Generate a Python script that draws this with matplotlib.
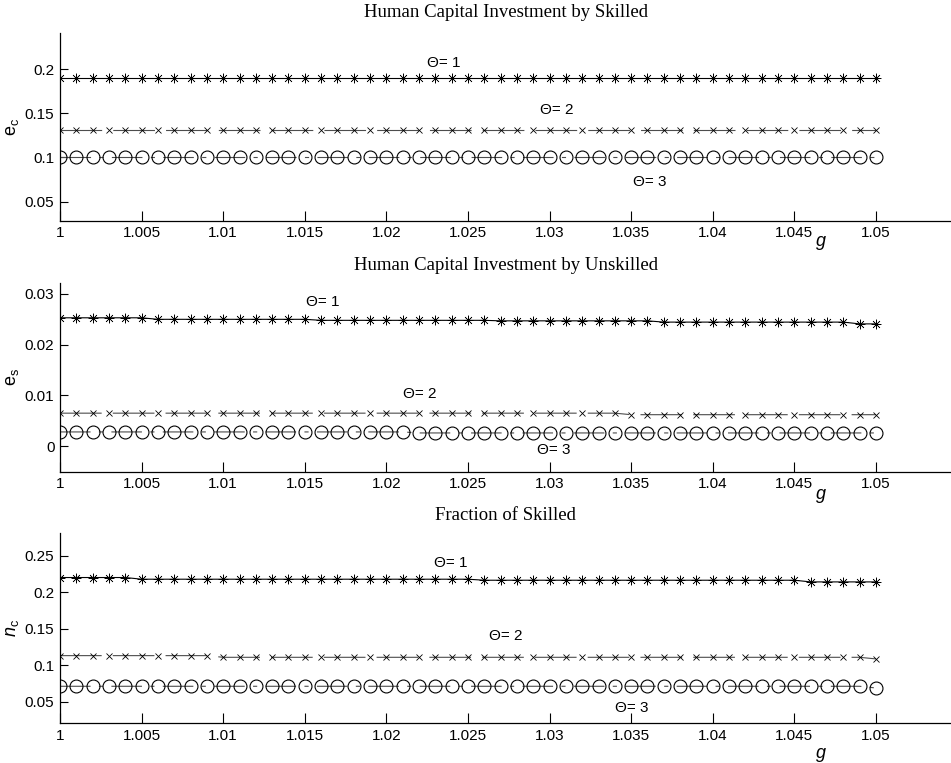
import matplotlib
matplotlib.use("Agg")
import matplotlib.pyplot as plt
import matplotlib.transforms as mtransforms

plt.rcParams['font.family'] = ['Liberation Sans', 'DejaVu Sans']
plt.rcParams['mathtext.fontset'] = 'custom'
plt.rcParams['mathtext.rm'] = 'Liberation Sans'
plt.rcParams['mathtext.it'] = 'Liberation Sans:italic'
plt.rcParams['lines.scale_dashes'] = False

# ---------------- data ----------------
g = [1.000, 1.001, 1.002, 1.003, 1.004, 1.005, 1.006, 1.007, 1.008, 1.009,
     1.010, 1.011, 1.012, 1.013, 1.014, 1.015, 1.016, 1.017, 1.018, 1.019,
     1.020, 1.021, 1.022, 1.023, 1.024, 1.025, 1.026, 1.027, 1.028, 1.029,
     1.030, 1.031, 1.032, 1.033, 1.034, 1.035, 1.036, 1.037, 1.038, 1.039,
     1.040, 1.041, 1.042, 1.043, 1.044, 1.045, 1.046, 1.047, 1.048, 1.049,
     1.050]

# Human capital investment by skilled (e_c)
ec_theta1 = [0.190, 0.190, 0.190, 0.190, 0.190, 0.190, 0.190, 0.190, 0.190, 0.190,
             0.190, 0.190, 0.190, 0.190, 0.190, 0.190, 0.190, 0.190, 0.190, 0.190,
             0.190, 0.190, 0.190, 0.190, 0.190, 0.190, 0.190, 0.190, 0.190, 0.190,
             0.190, 0.190, 0.190, 0.190, 0.190, 0.190, 0.190, 0.190, 0.190, 0.190,
             0.190, 0.190, 0.190, 0.190, 0.190, 0.190, 0.190, 0.190, 0.190, 0.190,
             0.190]
ec_theta2 = [0.131, 0.131, 0.131, 0.131, 0.131, 0.131, 0.131, 0.131, 0.131, 0.131,
             0.131, 0.131, 0.131, 0.131, 0.131, 0.131, 0.131, 0.131, 0.131, 0.131,
             0.131, 0.131, 0.131, 0.131, 0.131, 0.131, 0.131, 0.131, 0.131, 0.131,
             0.131, 0.131, 0.131, 0.131, 0.131, 0.131, 0.131, 0.131, 0.131, 0.131,
             0.131, 0.131, 0.131, 0.131, 0.131, 0.131, 0.131, 0.131, 0.131, 0.131,
             0.131]
ec_theta3 = [0.101, 0.101, 0.101, 0.101, 0.101, 0.101, 0.101, 0.101, 0.101, 0.101,
             0.101, 0.101, 0.101, 0.101, 0.101, 0.101, 0.101, 0.101, 0.101, 0.101,
             0.101, 0.101, 0.101, 0.101, 0.101, 0.101, 0.101, 0.101, 0.101, 0.101,
             0.101, 0.101, 0.101, 0.101, 0.101, 0.101, 0.101, 0.101, 0.101, 0.101,
             0.101, 0.101, 0.101, 0.101, 0.101, 0.101, 0.101, 0.101, 0.101, 0.101,
             0.101]

# Human capital investment by unskilled (e_s)
es_theta1 = [0.0253, 0.0253, 0.0253, 0.0253, 0.0253, 0.0253, 0.0250, 0.0250, 0.0250, 0.0250,
             0.0250, 0.0250, 0.0250, 0.0250, 0.0250, 0.0250, 0.0248, 0.0248, 0.0248, 0.0248,
             0.0248, 0.0248, 0.0248, 0.0248, 0.0248, 0.0248, 0.0248, 0.0247, 0.0247, 0.0247,
             0.0247, 0.0247, 0.0247, 0.0247, 0.0247, 0.0247, 0.0247, 0.02445, 0.02445, 0.02445,
             0.02445, 0.02445, 0.02445, 0.02445, 0.02445, 0.02445, 0.02445, 0.02445, 0.02445, 0.0241,
             0.0241]
es_theta2 = [0.0065, 0.0065, 0.0065, 0.0065, 0.0065, 0.0065, 0.0065, 0.0065, 0.0065, 0.0065,
             0.0065, 0.0065, 0.0065, 0.0065, 0.0065, 0.0065, 0.0065, 0.0065, 0.0065, 0.0065,
             0.0065, 0.0065, 0.0065, 0.0065, 0.0065, 0.0065, 0.0065, 0.0065, 0.0065, 0.0065,
             0.0065, 0.0065, 0.0065, 0.0065, 0.0065, 0.0062, 0.0062, 0.0062, 0.0062, 0.0062,
             0.0062, 0.0062, 0.0062, 0.0062, 0.0062, 0.0062, 0.0062, 0.0062, 0.0062, 0.0062,
             0.0062]
es_theta3 = [0.0028, 0.0028, 0.0028, 0.0028, 0.0028, 0.0028, 0.0028, 0.0028, 0.0028, 0.0028,
             0.0028, 0.0028, 0.0028, 0.0028, 0.0028, 0.0028, 0.0028, 0.0028, 0.0028, 0.0028,
             0.0028, 0.0028, 0.0026, 0.0026, 0.0026, 0.0026, 0.0026, 0.0026, 0.0026, 0.0026,
             0.0026, 0.0026, 0.0026, 0.0026, 0.0026, 0.0026, 0.0026, 0.0026, 0.0026, 0.0026,
             0.0026, 0.0026, 0.0026, 0.0026, 0.0026, 0.0026, 0.0026, 0.0026, 0.0026, 0.0026,
             0.0026]

# Fraction of skilled (n_c)
nc_theta1 = [0.2205, 0.2205, 0.2205, 0.2205, 0.2205, 0.2182, 0.2182, 0.2182, 0.2182, 0.2182,
             0.2182, 0.2182, 0.2182, 0.2182, 0.2182, 0.2182, 0.2182, 0.2182, 0.2182, 0.2182,
             0.2182, 0.2182, 0.2182, 0.2182, 0.2182, 0.2182, 0.2168, 0.2168, 0.2168, 0.2168,
             0.2168, 0.2168, 0.2168, 0.2168, 0.2168, 0.2168, 0.2168, 0.2168, 0.2168, 0.2168,
             0.2168, 0.2168, 0.2168, 0.2168, 0.2168, 0.2168, 0.2145, 0.2145, 0.2145, 0.2145,
             0.2145]
nc_theta2 = [0.1135, 0.1135, 0.1135, 0.1135, 0.1135, 0.1135, 0.1135, 0.1135, 0.1135, 0.1135,
             0.1112, 0.1112, 0.1112, 0.1112, 0.1112, 0.1112, 0.1112, 0.1112, 0.1112, 0.1112,
             0.1112, 0.1112, 0.1112, 0.1112, 0.1112, 0.1112, 0.1112, 0.1112, 0.1112, 0.1112,
             0.1112, 0.1112, 0.1112, 0.1112, 0.1112, 0.1112, 0.1112, 0.1112, 0.1112, 0.1112,
             0.1112, 0.1112, 0.1112, 0.1112, 0.1112, 0.1112, 0.1112, 0.1112, 0.1112, 0.1112,
             0.1090]
nc_theta3 = [0.0715, 0.0715, 0.0715, 0.0715, 0.0715, 0.0715, 0.0715, 0.0715, 0.0715, 0.0715,
             0.0715, 0.0715, 0.0715, 0.0715, 0.0715, 0.0715, 0.0715, 0.0715, 0.0715, 0.0715,
             0.0715, 0.0715, 0.0715, 0.0715, 0.0715, 0.0715, 0.0715, 0.0715, 0.0715, 0.0715,
             0.0715, 0.0715, 0.0715, 0.0715, 0.0715, 0.0715, 0.0715, 0.0715, 0.0715, 0.0715,
             0.0715, 0.0715, 0.0715, 0.0715, 0.0715, 0.0715, 0.0715, 0.0715, 0.0715, 0.0715,
             0.0692]

titles = ["Human Capital Investment by Skilled",
          "Human Capital Investment by Unskilled",
          "Fraction of Skilled"]
ylabels = [r"$\mathregular{e_c}$", r"$\mathregular{e_s}$", r"$\mathit{n}_\mathregular{c}$"]
theta_labels = ["\u0398= 1", "\u0398= 2", "\u0398= 3"]
xticks = [1, 1.005, 1.01, 1.015, 1.02, 1.025, 1.03, 1.035, 1.04, 1.045, 1.05]
xticklabels = ["1", "1.005", "1.01", "1.015", "1.02", "1.025", "1.03", "1.035", "1.04", "1.045", "1.05"]
yticks = [[0.05, 0.1, 0.15, 0.2], [0, 0.01, 0.02, 0.03], [0.05, 0.1, 0.15, 0.2, 0.25]]
yticklabels = [["0.05", "0.1", "0.15", "0.2"], ["0", "0.01", "0.02", "0.03"],
               ["0.05", "0.1", "0.15", "0.2", "0.25"]]

series = [(ec_theta1, ec_theta2, ec_theta3),
          (es_theta1, es_theta2, es_theta3),
          (nc_theta1, nc_theta2, nc_theta3)]

# ---------------- layout ----------------
W, H = 951, 763
fig = plt.figure(figsize=(W / 100, H / 100), dpi=100)

boxes = [(32.7, 220.5), (283.3, 471.5), (533.0, 723.0)]
ylims = [(0.0285, 0.2415), (-0.0050, 0.0321), (0.0212, 0.2815)]
xlim = (1.0, 1.0546)

ann_pos = [[(1.0225, 0.2071), (1.0294, 0.1537), (1.0351, 0.0723)],
           [(1.0151, 0.0284), (1.0210, 0.0102), (1.0292, -0.0008)],
           [(1.0229, 0.2404), (1.0263, 0.1404), (1.0340, 0.0418)]]
g_offsets = [21.5, 22.5, 30.0]
title_pads = [11.0, 9.6, 9.6]

for i in range(3):
    top, bot = boxes[i]
    ax = fig.add_axes([60 / W, 1 - bot / H, (W - 60) / W, (bot - top) / H])
    y1, y2, y3 = series[i]
    ax.plot(g, y1, color='k', lw=0.8, marker=(8, 2, 0), ms=7, mew=0.45, mec='k')
    ax.plot(g, y2, color='0.3', lw=0.8, ls=(0, (30, 8)), marker='x', ms=4.5,
            mew=0.6, mec='k')
    ax.plot(g, y3, color='0.3', lw=0.8, ls=(0, (22, 6, 3, 6)), marker='o', ms=9.3,
            mew=0.8, mec='k', mfc='none')

    ax.set_xlim(*xlim)
    ax.set_ylim(*ylims[i])
    ax.set_xticks(xticks)
    ax.set_xticklabels(xticklabels)
    ax.set_yticks(yticks[i])
    ax.set_yticklabels(yticklabels[i])
    for s in ['top', 'right']:
        ax.spines[s].set_visible(False)
    for s in ['left', 'bottom']:
        ax.spines[s].set_linewidth(0.9)
    ax.tick_params(axis='x', direction='in', length=7.5, width=0.8, pad=4,
                   labelsize=11)
    ax.tick_params(axis='y', direction='in', length=6, width=0.8, pad=4,
                   labelsize=11)

    ax.set_title(titles[i], fontfamily='Liberation Serif', fontsize=13.5,
                 pad=title_pads[i])
    ax.set_ylabel(ylabels[i], fontsize=13)
    ax.yaxis.set_label_coords(-0.0438, 0.5)

    for (tx, ty), lab in zip(ann_pos[i], theta_labels):
        ax.text(tx, ty, lab, fontsize=11, ha='left', va='center')

    trans = mtransforms.offset_copy(ax.transAxes, fig=fig, x=0,
                                    y=-g_offsets[i] * 0.72, units='points')
    ax.text((821 - 60) / (W - 60), 0, "g", transform=trans, fontsize=13,
            fontstyle='italic', ha='center', va='center')

fig.savefig("out.png", dpi=100)
